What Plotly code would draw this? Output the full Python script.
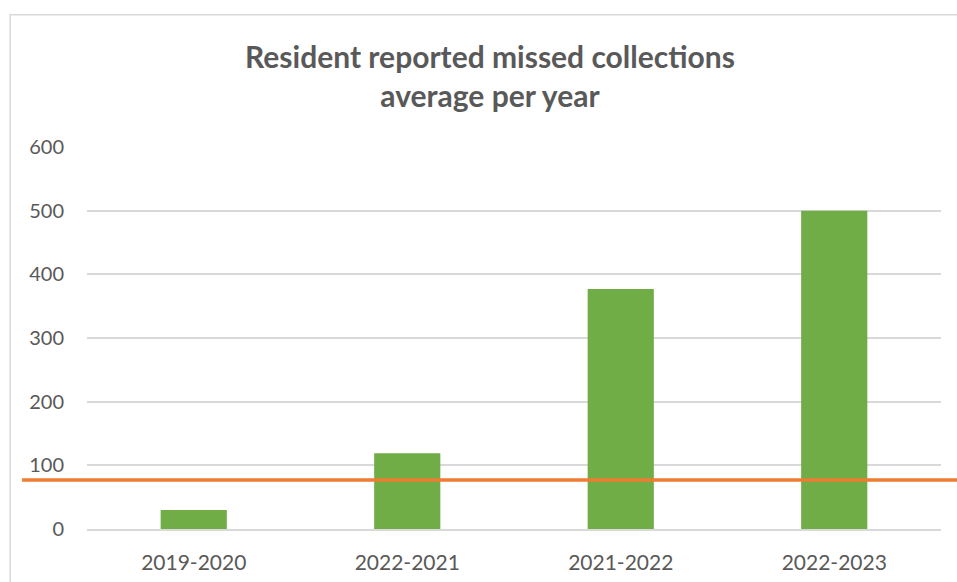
import plotly.graph_objects as go

categories = ["2019-2020", "2022-2021", "2021-2022", "2022-2023"]
values = [30, 119, 377, 500]
target = 77
title_lines = ["Resident reported missed collections", "average per year"]

fig = go.Figure()
fig.add_trace(go.Bar(x=categories, y=values, marker_color="#70AD47", marker_line_width=0))

fig.add_shape(type="line", xref="paper", yref="y", x0=-0.076, x1=1.03, y0=target, y1=target,
              line=dict(color="#ED7D31", width=3.5))
fig.add_shape(type="rect", xref="paper", yref="paper", x0=-0.09, x1=1.2, y0=-0.2, y1=1.346,
              line=dict(color="#D9D9D9", width=1.5), layer="below")

fig.update_layout(
    width=957, height=582,
    margin=dict(l=87, r=16, t=147, b=53, autoexpand=False),
    paper_bgcolor="white", plot_bgcolor="white",
    showlegend=False,
    bargap=0.69,
    title=dict(text="<br>".join(title_lines), x=0.512, xanchor="center", y=0.883, yanchor="top",
               automargin=False,
               font=dict(family="Lato", size=30, color="#595959", weight="bold")),
    font=dict(family="Lato", size=20, color="#595959"),
)
fig.update_yaxes(range=[0, 600], dtick=100, showgrid=True, gridcolor="#D9D9D9", gridwidth=1.5,
                 zeroline=False, showline=False, ticks="", ticklabelstandoff=22, automargin=False,
                 tickfont=dict(size=20, color="#595959"))
fig.update_xaxes(showline=True, linecolor="#D9D9D9", linewidth=1.5, ticks="", automargin=False,
                 ticklabelstandoff=14, tickfont=dict(size=21, color="#595959"))

fig.write_html("out.html", config={"displayModeBar": False},
               post_script="document.body.style.margin='0';")
